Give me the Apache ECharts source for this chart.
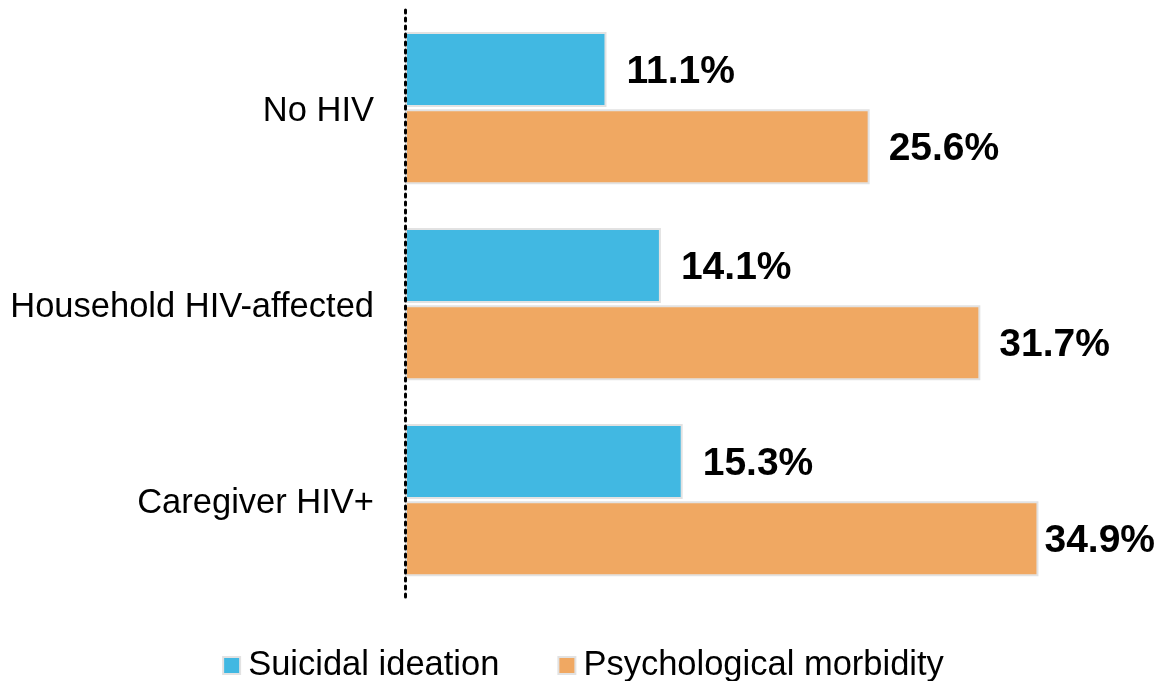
<!DOCTYPE html>
<html>
<head>
<meta charset="utf-8">
<style>
  html, body { margin: 0; padding: 0; background: #ffffff; }
  #chart { width: 1166px; height: 681px; }
</style>
<script src="https://cdn.jsdelivr.net/npm/echarts@6/dist/echarts.min.js"></script>
</head>
<body>
<div id="chart"></div>
<script>
// Groups shown top to bottom
const categories = ['No HIV', 'Household HIV-affected', 'Caregiver HIV+'];
const seriesNames = ['Suicidal ideation', 'Psychological morbidity'];
// Prevalence (%) per group
const suicidalIdeation = [11.1, 14.1, 15.3];
const psychMorbidity = [25.6, 31.7, 34.9];

const FONT = '"Liberation Sans", Arial, Helvetica, sans-serif';

function valueLabel(distance) {
  return {
    show: true,
    position: 'right',
    distance: distance,
    offset: [0, 3],
    color: '#000000',
    fontFamily: FONT,
    fontWeight: 'bold',
    fontSize: 39,
    formatter: p => p.value.toFixed(1) + '%'
  };
}

function barData(values, lastDistance) {
  return values.map((v, i) => {
    const d = { value: v };
    if (lastDistance != null && i === values.length - 1) {
      d.label = { distance: lastDistance };
    }
    return d;
  });
}

const chart = echarts.init(document.getElementById('chart'), null, { renderer: 'canvas' });

chart.setOption({
  animation: false,
  backgroundColor: '#ffffff',
  grid: { left: 405, right: 35, top: 10, bottom: 83, containLabel: false },
  legend: {
    top: 643,
    left: 'center',
    icon: 'rect',
    itemWidth: 17,
    itemHeight: 17,
    itemGap: 58,
    textStyle: { fontFamily: FONT, fontSize: 34.5, color: '#000000', padding: [0, 0, 0, 3] },
    data: seriesNames
  },
  xAxis: {
    type: 'value',
    min: 0,
    max: 40,
    show: false,
    splitLine: { show: false }
  },
  yAxis: {
    type: 'category',
    inverse: true,
    z: 10,
    data: categories,
    axisLine: {
      show: true,
      lineStyle: { color: '#000000', width: 3, type: [3, 5] }
    },
    axisTick: { show: false },
    axisLabel: {
      margin: 31,
      formatter: v => '{c|' + v + '}',
      rich: {
        c: {
          fontFamily: FONT,
          fontSize: 34.5,
          color: '#000000',
          padding: [7, 0, 0, 0]
        }
      }
    }
  },
  series: [
    {
      name: seriesNames[0],
      type: 'bar',
      barWidth: 75,
      barGap: '3%',
      itemStyle: { color: '#41B8E2', borderColor: '#e2e2e2', borderWidth: 2 },
      label: valueLabel(20),
      data: barData(suicidalIdeation)
    },
    {
      name: seriesNames[1],
      type: 'bar',
      barWidth: 75,
      barGap: '3%',
      itemStyle: { color: '#F0A862', borderColor: '#e2e2e2', borderWidth: 2 },
      label: valueLabel(19),
      data: barData(psychMorbidity, 6)
    }
  ]
});
</script>
</body>
</html>
